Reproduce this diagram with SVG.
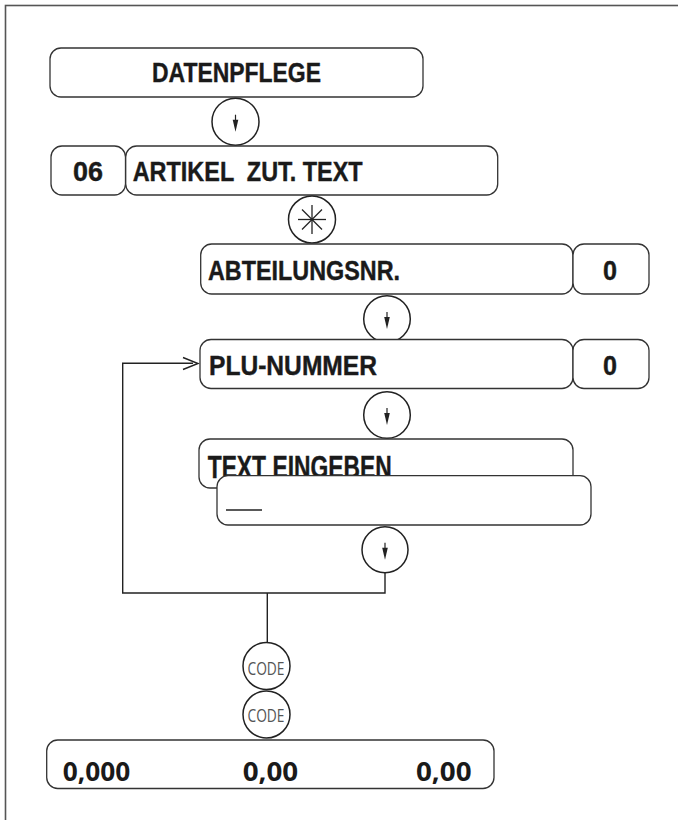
<svg xmlns="http://www.w3.org/2000/svg" width="678" height="820" viewBox="0 0 678 820">
<defs>
<style>
.frame{fill:none;stroke:#555;stroke-width:1.6}
.box{fill:#fff;stroke:#333;stroke-width:1.3}
.key{fill:#fff;stroke:#222;stroke-width:1.5}
.lbl{font-family:"Liberation Sans Narrow","Liberation Sans",Arial,sans-serif;font-weight:bold;font-size:27px;fill:#1a1a1a;stroke:#1a1a1a;stroke-width:0.4}
.num{font-family:"Open Sans","DejaVu Sans",sans-serif;font-weight:bold;font-size:26.5px;fill:#1a1a1a}
.code{font-family:"Open Sans","Liberation Sans",sans-serif;font-size:18px;fill:#555;text-anchor:middle}
.wire{fill:none;stroke:#222;stroke-width:1.4}
.astl{stroke:#222;stroke-width:1.3}
</style>
<g id="arrowSym">
<line x1="0" y1="-7" x2="0" y2="0" stroke="#222" stroke-width="1.2"/>
<polygon points="-2.8,-2 2.8,-2 0,10" fill="#222"/>
</g>
</defs>
<rect class="frame" x="5.5" y="5.5" width="720" height="900"/>

<g id="connectors">
<polyline class="wire" points="385,573 385,593 122.7,593 122.7,363.3 193,363.3"/>
<polyline class="wire" points="183,357.5 198,363.5 183,369.5"/>
<line class="wire" x1="267.3" y1="593" x2="267.3" y2="643"/>
</g>

<g id="n_datenpflege">
<rect class="box" x="50" y="48" width="373" height="49" rx="11"/>
<text class="lbl" x="152" y="82" textLength="169" lengthAdjust="spacingAndGlyphs">DATENPFLEGE</text>
</g>
<g id="k_down1">
<circle class="key" cx="235.5" cy="121.7" r="23.5"/>
<use href="#arrowSym" x="235.5" y="121.7"/>
</g>
<g id="n_06">
<rect class="box" x="51" y="146" width="74.5" height="49" rx="11"/>
<text class="lbl" x="73" y="181" textLength="30" lengthAdjust="spacingAndGlyphs">06</text>
</g>
<g id="n_artikel">
<rect class="box" x="125.7" y="146" width="372" height="49" rx="11"/>
<text class="lbl" x="132.7" y="181" textLength="230" lengthAdjust="spacingAndGlyphs" xml:space="preserve">ARTIKEL  ZUT. TEXT</text>
</g>
<g id="k_star">
<circle class="key" cx="312" cy="219.5" r="23.5"/>
<line class="astl" x1="312" y1="205" x2="312" y2="234"/>
<line class="astl" x1="298" y1="219.5" x2="326" y2="219.5"/>
<line class="astl" x1="302" y1="209.5" x2="322" y2="229.5"/>
<line class="astl" x1="302" y1="229.5" x2="322" y2="209.5"/>
</g>
<g id="n_abteilung">
<rect class="box" x="200.7" y="244" width="372.3" height="50" rx="11"/>
<text class="lbl" x="208" y="280" textLength="192" lengthAdjust="spacingAndGlyphs">ABTEILUNGSNR.</text>
</g>
<g id="n_abteilung_val">
<rect class="box" x="573" y="244" width="76" height="50" rx="11"/>
<text class="lbl" x="603" y="280" textLength="14" lengthAdjust="spacingAndGlyphs">0</text>
</g>
<g id="k_down2">
<circle class="key" cx="387" cy="319" r="23.3"/>
<use href="#arrowSym" x="387" y="319"/>
</g>
<g id="n_plu">
<rect class="box" x="200" y="339.5" width="373" height="49" rx="11"/>
<text class="lbl" x="209" y="375" textLength="168" lengthAdjust="spacingAndGlyphs">PLU-NUMMER</text>
</g>
<g id="n_plu_val">
<rect class="box" x="573" y="339.5" width="76" height="49" rx="11"/>
<text class="lbl" x="603" y="375" textLength="14" lengthAdjust="spacingAndGlyphs">0</text>
</g>
<g id="k_down3">
<circle class="key" cx="387" cy="415" r="23.3"/>
<use href="#arrowSym" x="387" y="415"/>
</g>
<g id="n_text">
<rect class="box" x="199" y="439" width="374" height="49" rx="11"/>
<text class="lbl" x="207.7" y="478" style="font-size:31px" textLength="184" lengthAdjust="spacingAndGlyphs">TEXT EINGEBEN</text>
</g>
<g id="n_input">
<rect class="box" x="217" y="475.7" width="374" height="49.3" rx="11"/>
<line x1="226" y1="510" x2="262" y2="510" stroke="#222" stroke-width="1.4"/>
</g>
<g id="k_down4">
<circle class="key" cx="385" cy="549.7" r="23"/>
<use href="#arrowSym" x="385" y="549.7"/>
</g>
<g id="k_code1">
<circle class="key" cx="266.5" cy="666" r="23.5"/>
<text class="code" x="266" y="675" textLength="37" lengthAdjust="spacingAndGlyphs">CODE</text>
</g>
<g id="k_code2">
<circle class="key" cx="266.5" cy="714.5" r="23.5"/>
<text class="code" x="266" y="722" textLength="37" lengthAdjust="spacingAndGlyphs">CODE</text>
</g>
<g id="n_display">
<rect class="box" x="46.7" y="740" width="447.3" height="48.5" rx="11"/>
<text class="num" x="62.7" y="781" textLength="67.5" lengthAdjust="spacingAndGlyphs">0,000</text>
<text class="num" x="242.7" y="781" textLength="55.5" lengthAdjust="spacingAndGlyphs">0,00</text>
<text class="num" x="416" y="781" textLength="55.5" lengthAdjust="spacingAndGlyphs">0,00</text>
</g>
</svg>
